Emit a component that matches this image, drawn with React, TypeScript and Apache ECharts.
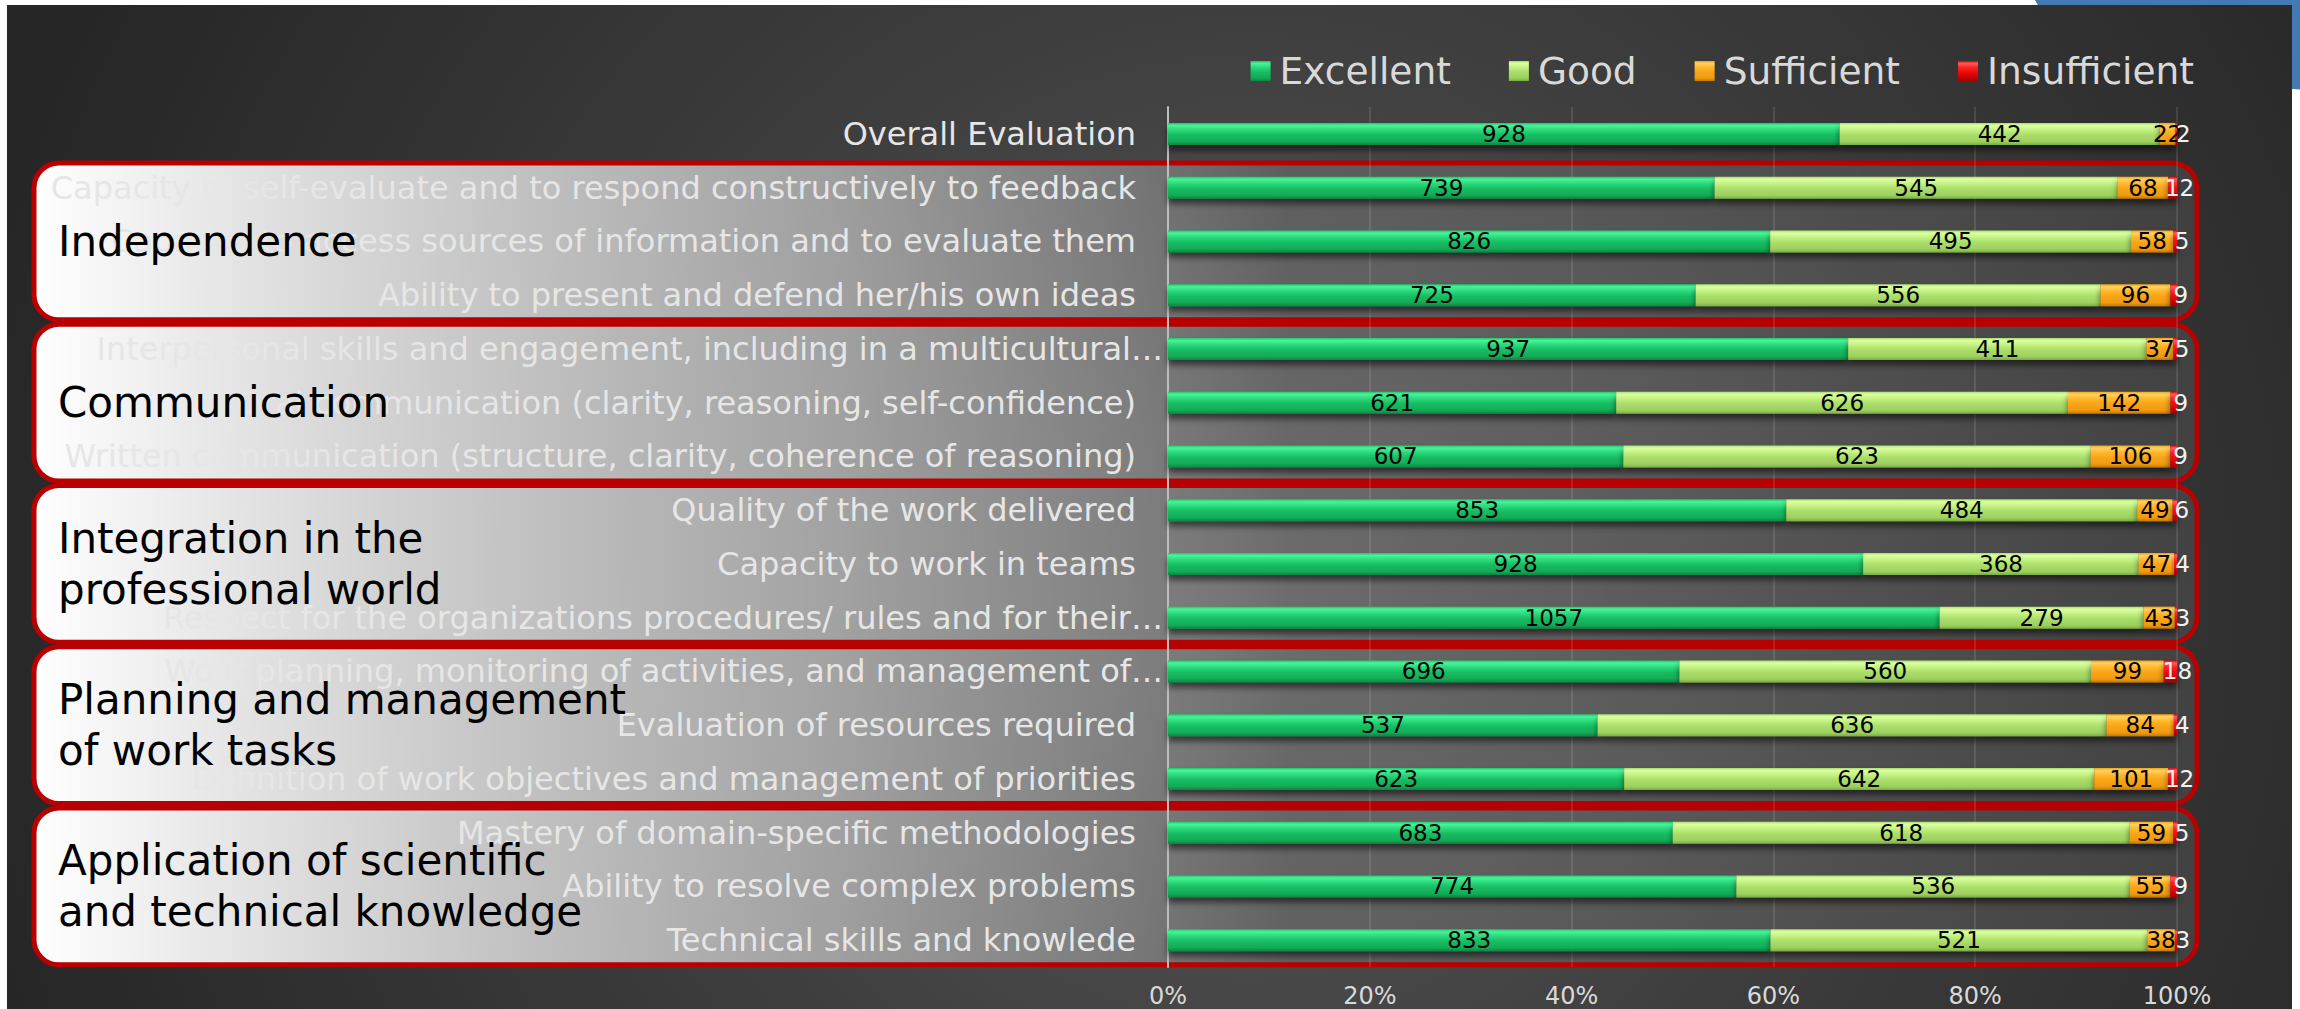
import React, { useEffect, useRef } from 'react';
import * as echarts from 'echarts';

const FONT = 'DejaVu Sans';

const categories = [
  'Overall Evaluation',
  'Capacity to self-evaluate and to respond constructively to feedback',
  'Capacity to access sources of information and to evaluate them',
  'Ability to present and defend her/his own ideas',
  'Interpersonal skills and engagement, including in a multicultural…',
  'Oral communication (clarity, reasoning, self-confidence)',
  'Written communication (structure, clarity, coherence of reasoning)',
  'Quality of the work delivered',
  'Capacity to work in teams',
  'Respect for the organizations procedures/ rules and for their…',
  'Work planning, monitoring of activities, and management of…',
  'Evaluation of resources required',
  'Definition of work objectives and management of priorities',
  'Mastery of domain-specific methodologies',
  'Ability to resolve complex problems',
  'Technical skills and knowlede',
];

const seriesNames = ['Excellent', 'Good', 'Sufficient', 'Insufficient'];

const excellent = [928, 739, 826, 725, 937, 621, 607, 853, 928, 1057, 696, 537, 623, 683, 774, 833];
const good = [442, 545, 495, 556, 411, 626, 623, 484, 368, 279, 560, 636, 642, 618, 536, 521];
const sufficient = [22, 68, 58, 96, 37, 142, 106, 49, 47, 43, 99, 84, 101, 59, 55, 38];
const insufficient = [2, 12, 5, 9, 5, 9, 9, 6, 4, 3, 18, 4, 12, 5, 9, 3];

const groupLabels = [
  'Independence',
  'Communication',
  'Integration in the\nprofessional world',
  'Planning and management\nof work tasks',
  'Application of scientific\nand technical knowledge',
];
// index of the middle category of each group
const groupMiddle = [2, 5, 8, 11, 14];

const grad = (stops: [number, string][]) =>
  new echarts.graphic.LinearGradient(0, 0, 0, 1, stops.map(([offset, color]) => ({ offset, color })));

const colors = [
  grad([[0, '#1cc465'], [0.12, '#48f39a'], [0.32, '#2cd97b'], [0.55, '#17bd62'], [0.85, '#12aa56'], [1, '#0a8843']]),
  grad([[0, '#a6dc6c'], [0.12, '#dcffa0'], [0.32, '#c3f282'], [0.55, '#aadd6a'], [0.85, '#9dd05e'], [1, '#7aae42']]),
  grad([[0, '#eea010'], [0.12, '#ffd264'], [0.32, '#ffb82c'], [0.55, '#f9a418'], [0.85, '#f09a10'], [1, '#c47800']]),
  grad([[0, '#dd0000'], [0.12, '#ff5a5a'], [0.32, '#ff2424'], [0.55, '#ee0b0b'], [1, '#a80000']]),
];
const labelColors = ['#000000', '#000000', '#000000', '#f2f2f2'];

export default function App() {
  const ref = useRef<HTMLDivElement>(null);

  useEffect(() => {
    if (!ref.current) return;
    const chart = echarts.init(ref.current, null, { renderer: 'svg' });
    const raw = [excellent, good, sufficient, insufficient];
    const totals = categories.map((_, i) => raw.reduce((s, arr) => s + arr[i], 0));

    const series = seriesNames.map((name, si) => ({
      name,
      type: 'bar',
      stack: 'total',
      barWidth: 22,
      data: raw[si].map((v, i) => (v / totals[i]) * 100),
      itemStyle: {
        color: colors[si],
        shadowColor: 'rgba(0,0,0,0.55)',
        shadowBlur: 6,
        shadowOffsetY: 5,
      },
      label: {
        show: true,
        position: 'inside',
        color: labelColors[si],
        fontSize: 23,
        fontFamily: FONT,
        offset: si === 3 ? [7, 0] : [0, 0],
        formatter: (p: any) => String(raw[si][p.dataIndex]),
      },
    }));

    const option: any = {
      animation: false,
      backgroundColor: 'transparent',
      textStyle: { fontFamily: FONT },
      legend: {
        data: seriesNames,
        right: 106,
        top: 52,
        padding: 0,
        itemWidth: 20,
        itemHeight: 20,
        itemGap: 58,
        icon: 'rect',
        textStyle: { color: '#d9d9d9', fontSize: 37.5, fontFamily: FONT, padding: [0, 0, 0, 4] },
      },
      grid: { left: 1168, right: 123, top: 107, bottom: 42, containLabel: false },
      xAxis: {
        type: 'value',
        min: 0,
        max: 100,
        interval: 20,
        axisLine: { show: false },
        axisTick: { show: false },
        axisLabel: { formatter: '{value}%', color: '#d9d9d9', fontSize: 24, fontFamily: FONT, margin: 17 },
        splitLine: { show: true, lineStyle: { color: 'rgba(255,255,255,0.14)', width: 1.5 } },
      },
      yAxis: {
        type: 'category',
        data: categories,
        inverse: true,
        axisTick: { show: false },
        axisLine: { show: true, lineStyle: { color: '#bdbdbd', width: 2 } },
        axisLabel: {
          margin: 5,
          color: '#e6e6e6',
          fontSize: 32,
          fontFamily: FONT,
          formatter: (v: string) => (v.endsWith('…') ? `{t|${v}}` : `{n|${v}}`),
          rich: {
            n: { padding: [0, 27, 0, 0], color: '#e6e6e6', fontSize: 32, fontFamily: FONT },
            t: { color: '#e6e6e6', fontSize: 32, fontFamily: FONT },
          },
        },
      },
      series,
    };
    chart.setOption(option);

    const y0 = chart.convertToPixel({ yAxisIndex: 0 }, categories[0]) as number;
    const y1 = chart.convertToPixel({ yAxisIndex: 0 }, categories[1]) as number;
    const band = Math.abs(y1 - y0);
    const xRight = (chart.convertToPixel({ xAxisIndex: 0 }, 100) as number) + 20;
    const boxLeft = 34;
    const boxH = band * 2.92;

    const boxFill = new echarts.graphic.LinearGradient(0, 0, 1, 0, [
      { offset: 0, color: 'rgba(255,255,255,1)' },
      { offset: 0.19, color: 'rgba(255,255,255,0.74)' },
      { offset: 0.37, color: 'rgba(255,255,255,0.5)' },
      { offset: 0.5, color: 'rgba(255,255,255,0.28)' },
      { offset: 0.58, color: 'rgba(255,255,255,0.13)' },
      { offset: 1, color: 'rgba(255,255,255,0.08)' },
    ]);

    const elements: any[] = [
      { type: 'rect', silent: true, z: -20, shape: { x: 0, y: 0, width: 2300, height: 1009 }, style: { fill: '#ffffff' } },
      { type: 'ellipse', silent: true, z: -19, shape: { cx: 2330, cy: -20, rx: 300, ry: 110 }, style: { fill: '#4479b4' } },
      {
        type: 'rect',
        silent: true,
        z: -18,
        shape: { x: 7, y: 5, width: 2285, height: 1004 },
        style: {
          fill: new echarts.graphic.RadialGradient(1250, 600, 1300, [
            { offset: 0, color: '#585858' },
            { offset: 0.5, color: '#3c3c3c' },
            { offset: 1, color: '#262626' },
          ], true),
        },
      },
    ];
    groupMiddle.forEach((mi, gi) => {
      const mid = chart.convertToPixel({ yAxisIndex: 0 }, categories[mi]) as number;
      elements.push({
        type: 'rect',
        silent: true,
        z: -5,
        shape: { x: boxLeft, y: mid - boxH / 2, width: xRight - boxLeft, height: boxH, r: 25 },
        style: { fill: boxFill, stroke: '#b80000', lineWidth: 5 },
      });
      elements.push({
        type: 'text',
        silent: true,
        z: 10,
        x: 58,
        y: mid,
        style: {
          text: groupLabels[gi],
          fill: '#000000',
          fontSize: 42,
          fontFamily: FONT,
          verticalAlign: 'middle',
          align: 'left',
          lineHeight: 51,
        },
      });
    });
    chart.setOption({ graphic: { elements } });

    return () => chart.dispose();
  }, []);

  return <div ref={ref} style={{ position: 'absolute', left: 0, top: 0, width: 2300, height: 1009 }} />;
}
